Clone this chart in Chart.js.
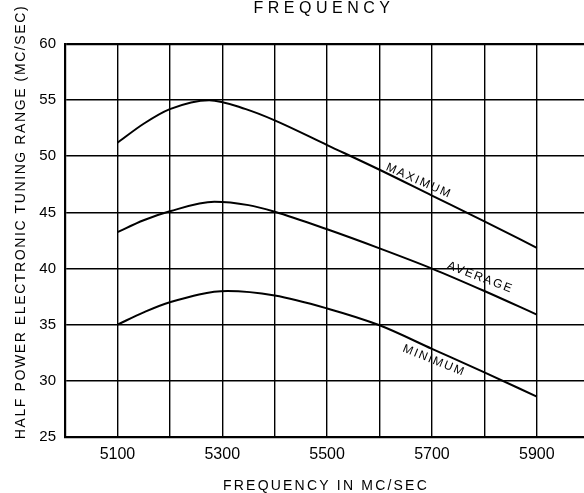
<!DOCTYPE html>
<html>
<head>
<meta charset="utf-8">
<script src="https://cdn.jsdelivr.net/npm/chart.js@4/dist/chart.umd.min.js"></script>
<style>
  html, body { margin: 0; padding: 0; background: #fff; }
  #wrap { width: 584px; height: 493px; position: relative; }
</style>
</head>
<body>
<div id="wrap"><canvas id="c" width="584" height="493"></canvas></div>
<script>
// ---- data ----
const freqMaximum = [5100, 5150, 5200, 5275, 5345, 5400, 5500, 5600, 5700, 5800, 5900];
const maximumRange = [51.2, 52.9, 54.2, 55.0, 54.2, 53.2, 51.0, 48.8, 46.5, 44.2, 41.85];
const freqAverage = [5100, 5150, 5200, 5285, 5350, 5400, 5500, 5600, 5700, 5800, 5900];
const averageRange = [43.24, 44.3, 45.1, 45.95, 45.65, 45.06, 43.5, 41.8, 40.0, 38.0, 35.9];
const freqMinimum = [5100, 5150, 5200, 5310, 5400, 5500, 5600, 5700, 5800, 5900];
const minimumRange = [35.0, 36.1, 37.0, 38.0, 37.6, 36.45, 34.95, 32.85, 30.75, 28.6];
const xTickLabels = [5100, 5300, 5500, 5700, 5900];
const yTickValues = [25, 30, 35, 40, 45, 50, 55, 60];
const seriesNames = ['MAXIMUM', 'AVERAGE', 'MINIMUM'];
// label anchors (frequency, value) for the in-chart curve labels
const labelFreq = [5675, 5792, 5704];
const labelValue = [47.8, 39.2, 31.8];

const titleText = 'FREQUENCY';
const xTitleText = 'FREQUENCY IN MC/SEC';
const yTitleText = 'HALF POWER ELECTRONIC TUNING RANGE (MC/SEC)';

const seriesFreq = [freqMaximum, freqAverage, freqMinimum];
const seriesData = [maximumRange, averageRange, minimumRange];
const toPts = (fr, arr) => fr.map((f, i) => ({x: f, y: arr[i]}));

const textPlugin = {
  id: 'textPlugin',
  beforeDraw(chart) {
    const ctx = chart.ctx;
    ctx.save();
    ctx.fillStyle = '#fff';
    ctx.fillRect(0, 0, chart.width, chart.height);
    ctx.restore();
  },
  afterDraw(chart) {
    const ctx = chart.ctx;
    const xs = chart.scales.x, ys = chart.scales.y;
    ctx.save();
    ctx.fillStyle = '#000';
    ctx.textAlign = 'center';
    ctx.textBaseline = 'alphabetic';
    // top title (cropped)
    ctx.font = '16px "Liberation Sans", Arial, sans-serif';
    ctx.letterSpacing = '4.5px';
    ctx.fillText(titleText, 324, 12.5);
    // x title
    ctx.font = '14px "Liberation Sans", Arial, sans-serif';
    ctx.letterSpacing = '2.2px';
    ctx.fillText(xTitleText, 326, 490);
    // y title
    ctx.save();
    ctx.translate(25, 222);
    ctx.rotate(-Math.PI / 2);
    ctx.font = '14px "Liberation Sans", Arial, sans-serif';
    ctx.letterSpacing = '1.6px';
    ctx.fillText(yTitleText, 0, 0);
    ctx.restore();
    // curve labels
    ctx.font = '12px "Liberation Sans", Arial, sans-serif';
    ctx.letterSpacing = '1.8px';
    ctx.textBaseline = 'middle';
    seriesNames.forEach((name, i) => {
      const f = labelFreq[i], v = labelValue[i];
      const fr = seriesFreq[i], d = seriesData[i];
      let k = fr.findIndex(q => q >= f);
      if (k < 1) k = 1;
      const x0 = xs.getPixelForValue(fr[k - 1]), y0 = ys.getPixelForValue(d[k - 1]);
      const x1 = xs.getPixelForValue(fr[k]), y1 = ys.getPixelForValue(d[k]);
      const ang = Math.atan2(y1 - y0, x1 - x0) - 0.04;
      ctx.save();
      ctx.translate(xs.getPixelForValue(f), ys.getPixelForValue(v));
      ctx.rotate(ang);
      ctx.fillText(name, 0, 0);
      ctx.restore();
    });
    ctx.restore();
  }
};

new Chart(document.getElementById('c'), {
  type: 'line',
  data: {
    datasets: seriesData.map((arr, i) => ({
      label: seriesNames[i],
      data: toPts(seriesFreq[i], arr),
      borderColor: '#000',
      borderWidth: 2,
      pointRadius: 0,
      fill: false,
      cubicInterpolationMode: 'monotone'
    }))
  },
  options: {
    responsive: false,
    animation: false,
    layout: { padding: { left: 0, top: 44, right: 0, bottom: 0 } },
    plugins: { legend: { display: false }, title: { display: false }, tooltip: { enabled: false } },
    scales: {
      x: {
        type: 'linear',
        min: 5000,
        max: 5990,
        afterBuildTicks(scale) {
          const t = [];
          for (let v = 5000; v <= 5900; v += 100) t.push({value: v});
          scale.ticks = t;
        },
        afterFit(scale) { scale.height = 56; },
        grid: {
          color: '#000',
          lineWidth: 1.4,
          drawTicks: false
        },
        border: { color: '#000', width: 2.2 },
        ticks: {
          padding: 8,
          color: '#000',
          maxRotation: 0,
          autoSkip: false,
          font: { family: '"Liberation Sans", Arial, sans-serif', size: 16 },
          callback: v => xTickLabels.includes(v) ? String(v) : ''
        }
      },
      y: {
        type: 'linear',
        min: 25,
        max: 60,
        afterBuildTicks(scale) {
          scale.ticks = yTickValues.map(v => ({value: v}));
        },
        afterFit(scale) { scale.width = 65; },
        grid: {
          color: '#000',
          lineWidth: ctx => (ctx.tick && ctx.tick.value === 60) ? 2.2 : 1.6,
          drawTicks: false
        },
        border: { color: '#000', width: 2.2 },
        ticks: {
          padding: 9,
          color: '#000',
          font: { family: '"Liberation Sans", Arial, sans-serif', size: 15 },
          callback: v => String(v)
        }
      }
    }
  },
  plugins: [textPlugin]
});
</script>
</body>
</html>
